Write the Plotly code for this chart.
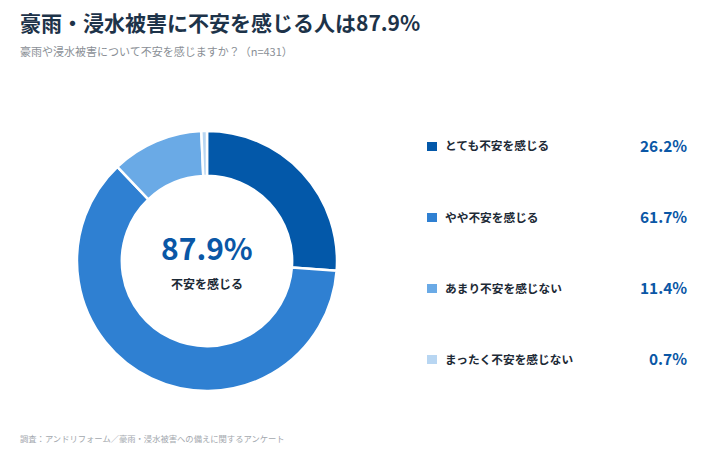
import plotly.graph_objects as go

# Survey answers and shares (%)
labels = ['とても不安を感じる', 'やや不安を感じる', 'あまり不安を感じない', 'まったく不安を感じない']
shares = [26.2, 61.7, 11.4, 0.7]
colors = ['#0358a9', '#2f80d2', '#6aaae6', '#b8d6f2']

title = '豪雨・浸水被害に不安を感じる人は87.9%'
subtitle = '豪雨や浸水被害について不安を感じますか？（n=431）'
source = '調査：アンドリフォーム／豪雨・浸水被害への備えに関するアンケート'
center_label = '不安を感じる'

FONT = 'Noto Sans CJK JP'
W, H = 710, 460
OFF = 8  # page body margin


def px(x):
    return (x - OFF) / W


def py(y):
    return 1 - (y - OFF) / H


def main():
    worried = round(shares[0] + shares[1], 1)

    fig = go.Figure(go.Pie(
        labels=labels,
        values=shares,
        hole=0.655,
        sort=False,
        direction='clockwise',
        rotation=0,
        marker=dict(colors=colors, line=dict(color='white', width=2.5)),
        textinfo='none',
        hoverinfo='label+percent',
        domain=dict(x=[px(77), px(337)], y=[py(391), py(131)]),
        showlegend=False,
    ))

    ann = []
    # header / footer
    ann.append(dict(text='<b>' + title + '</b>', x=px(18), y=py(22), xanchor='left', yanchor='middle',
                    font=dict(size=21, color='#1d3349')))
    ann.append(dict(text=subtitle, x=px(18), y=py(51), xanchor='left', yanchor='middle',
                    font=dict(size=11, color='#8a8f96')))
    ann.append(dict(text=source, x=px(18), y=py(438), xanchor='left', yanchor='middle',
                    font=dict(size=8.3, color='#a3a8ae')))

    # text in the hole
    ann.append(dict(text='<b>{:.1f}%</b>'.format(worried), x=px(207), y=py(247),
                    xanchor='center', yanchor='middle', font=dict(size=30, color='#0a57a6')))
    ann.append(dict(text='<b>' + center_label + '</b>', x=px(207), y=py(283),
                    xanchor='center', yanchor='middle', font=dict(size=12, color='#1d2a36')))

    # legend rows on the right
    shapes = []
    for i, (lab, val, col) in enumerate(zip(labels, shares, colors)):
        yc = 145 + i * 71
        shapes.append(dict(type='rect', xref='paper', yref='paper',
                           x0=px(427), x1=px(437), y0=py(yc + 6), y1=py(yc - 3),
                           fillcolor=col, line=dict(width=0)))
        ann.append(dict(text='<b>' + lab + '</b>', x=px(443), y=py(yc), xanchor='left', yanchor='middle',
                        font=dict(size=11.7, color='#1d2a36')))
        ann.append(dict(text='<b>{:.1f}%</b>'.format(val), x=px(689), y=py(yc), xanchor='right',
                        yanchor='middle', font=dict(size=15.4, color='#0a57a6')))

    for a in ann:
        a.update(xref='paper', yref='paper', showarrow=False)

    fig.update_layout(
        width=W, height=H,
        margin=dict(l=0, r=0, t=0, b=0),
        paper_bgcolor='white',
        plot_bgcolor='white',
        font=dict(family=FONT),
        annotations=ann,
        shapes=shapes,
    )
    fig.write_html('out.html')


if __name__ == '__main__':
    main()
